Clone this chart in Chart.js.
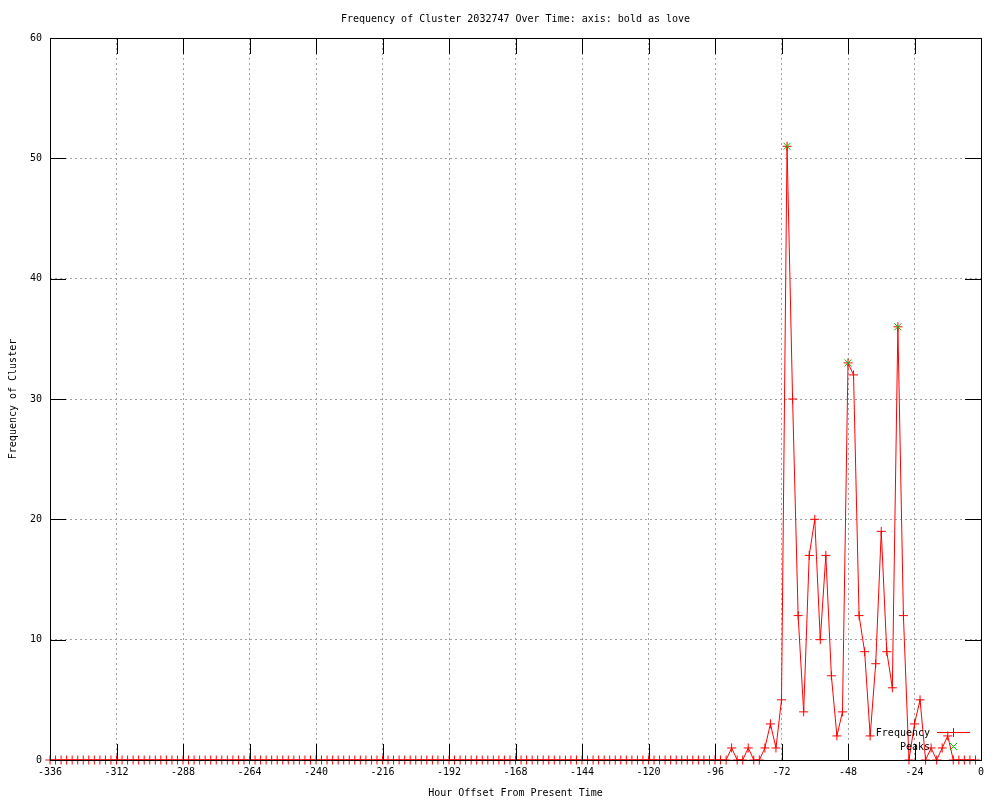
<!DOCTYPE html>
<html>
<head>
<meta charset="utf-8">
<script src="https://cdn.jsdelivr.net/npm/chart.js@4.4.0/dist/chart.umd.min.js"></script>
<style>
html, body { margin: 0; padding: 0; background: #fff; }
</style>
</head>
<body>
<canvas id="freqChart" width="1000" height="800"></canvas>
<script>
// Hour offsets (every 2 hours)
const hours = [
    -336, -334, -332, -330, -328, -326, -324, -322, -320, -318, -316, -314,
    -312, -310, -308, -306, -304, -302, -300, -298, -296, -294, -292, -290,
    -288, -286, -284, -282, -280, -278, -276, -274, -272, -270, -268, -266,
    -264, -262, -260, -258, -256, -254, -252, -250, -248, -246, -244, -242,
    -240, -238, -236, -234, -232, -230, -228, -226, -224, -222, -220, -218,
    -216, -214, -212, -210, -208, -206, -204, -202, -200, -198, -196, -194,
    -192, -190, -188, -186, -184, -182, -180, -178, -176, -174, -172, -170,
    -168, -166, -164, -162, -160, -158, -156, -154, -152, -150, -148, -146,
    -144, -142, -140, -138, -136, -134, -132, -130, -128, -126, -124, -122,
    -120, -118, -116, -114, -112, -110, -108, -106, -104, -102, -100, -98,
    -96, -94, -92, -90, -88, -86, -84, -82, -80, -78, -76, -74,
    -72, -70, -68, -66, -64, -62, -60, -58, -56, -54, -52, -50,
    -48, -46, -44, -42, -40, -38, -36, -34, -32, -30, -28, -26,
    -24, -22, -20, -18, -16, -14, -12, -10, -8, -6, -4, -2
];
const frequency = [
    0, 0, 0, 0, 0, 0, 0, 0, 0, 0, 0, 0,
    0, 0, 0, 0, 0, 0, 0, 0, 0, 0, 0, 0,
    0, 0, 0, 0, 0, 0, 0, 0, 0, 0, 0, 0,
    0, 0, 0, 0, 0, 0, 0, 0, 0, 0, 0, 0,
    0, 0, 0, 0, 0, 0, 0, 0, 0, 0, 0, 0,
    0, 0, 0, 0, 0, 0, 0, 0, 0, 0, 0, 0,
    0, 0, 0, 0, 0, 0, 0, 0, 0, 0, 0, 0,
    0, 0, 0, 0, 0, 0, 0, 0, 0, 0, 0, 0,
    0, 0, 0, 0, 0, 0, 0, 0, 0, 0, 0, 0,
    0, 0, 0, 0, 0, 0, 0, 0, 0, 0, 0, 0,
    0, 0, 0, 1, 0, 0, 1, 0, 0, 1, 3, 1,
    5, 51, 30, 12, 4, 17, 20, 10, 17, 7, 2, 4,
    33, 32, 12, 9, 2, 8, 19, 9, 6, 36, 12, 0,
    3, 5, 0, 1, 0, 1, 2, 0, 0, 0, 0, 0
];
const peakHours = [-70, -48, -30];
const peakValues = [51, 33, 36];

const xTicks = [-336, -312, -288, -264, -240, -216, -192, -168, -144, -120, -96, -72, -48, -24, 0];
const yTicks = [0, 10, 20, 30, 40, 50, 60];

const FONT = "'DejaVu Sans Mono', 'Liberation Mono', monospace";

// gnuplot style frame: border, inward ticks, titles, legend
const gnuplotFrame = {
    id: 'gnuplotFrame',
    afterDraw(chart) {
        const ctx = chart.ctx;
        const a = chart.chartArea;
        const xs = chart.scales.x;
        const ys = chart.scales.y;
        const tl = 16;
        ctx.save();
        ctx.strokeStyle = '#000';
        ctx.lineWidth = 1;
        ctx.beginPath();
        xTicks.forEach(v => {
            const px = Math.round(xs.getPixelForValue(v)) + 0.5;
            ctx.moveTo(px, a.bottom); ctx.lineTo(px, a.bottom - tl);
            ctx.moveTo(px, a.top); ctx.lineTo(px, a.top + tl);
        });
        yTicks.forEach(v => {
            const py = Math.round(ys.getPixelForValue(v)) + 0.5;
            ctx.moveTo(a.left, py); ctx.lineTo(a.left + tl, py);
            ctx.moveTo(a.right, py); ctx.lineTo(a.right - tl, py);
        });
        ctx.stroke();
        ctx.strokeRect(Math.round(a.left) + 0.5, Math.round(a.top) + 0.5,
            Math.round(a.right - a.left), Math.round(a.bottom - a.top));

        ctx.fillStyle = '#000';
        ctx.font = '10px ' + FONT;
        ctx.textAlign = 'center';
        ctx.textBaseline = 'middle';
        const cx = (a.left + a.right) / 2;
        ctx.fillText('Frequency of Cluster 2032747 Over Time: axis: bold as love', cx, 19);
        ctx.fillText('Hour Offset From Present Time', cx, 793);
        ctx.save();
        ctx.translate(13, (a.top + a.bottom) / 2);
        ctx.rotate(-Math.PI / 2);
        ctx.fillText('Frequency of Cluster', 0, 0);
        ctx.restore();

        // legend
        ctx.textAlign = 'right';
        ctx.fillText('Frequency', 930, 733);
        ctx.fillText('Peaks', 930, 747);
        ctx.strokeStyle = '#ff0000';
        ctx.beginPath();
        ctx.moveTo(937, 732.5); ctx.lineTo(970, 732.5);
        ctx.moveTo(953.5, 728); ctx.lineTo(953.5, 737);
        ctx.stroke();
        ctx.strokeStyle = '#00c000';
        ctx.beginPath();
        ctx.moveTo(950, 743); ctx.lineTo(957, 750);
        ctx.moveTo(957, 743); ctx.lineTo(950, 750);
        ctx.stroke();
        ctx.restore();
    }
};

const ctxFreq = document.getElementById('freqChart').getContext('2d');
new Chart(ctxFreq, {
    type: 'line',
    data: {
        datasets: [{
            label: 'Frequency',
            data: hours.map((h, i) => ({ x: h, y: frequency[i] })),
            borderColor: '#ff0000',
            backgroundColor: '#ff0000',
            borderWidth: 1,
            tension: 0,
            fill: false,
            pointStyle: 'cross',
            pointRadius: 4.5,
            pointBorderWidth: 1,
            pointBorderColor: '#ff0000',
            clip: false,
            order: 1
        }, {
            label: 'Peaks',
            data: peakHours.map((h, i) => ({ x: h, y: peakValues[i] })),
            showLine: false,
            pointStyle: 'crossRot',
            pointRadius: 5,
            pointBorderWidth: 1,
            pointBorderColor: '#00c000',
            backgroundColor: '#00c000',
            clip: false,
            order: 0
        }]
    },
    options: {
        responsive: false,
        animation: false,
        layout: {
            padding: { left: 0, top: 38, right: 19, bottom: 0 }
        },
        plugins: {
            legend: { display: false },
            tooltip: { enabled: false },
            title: { display: false }
        },
        scales: {
            x: {
                type: 'linear',
                min: -336,
                max: 0,
                afterBuildTicks: s => { s.ticks = xTicks.map(v => ({ value: v })); },
                afterFit: s => { s.height = 40; },
                grid: {
                    color: '#a0a0a0',
                    lineWidth: 1,
                    drawTicks: false
                },
                border: { display: false, dash: [2, 3] },
                ticks: {
                    color: '#000',
                    padding: 6,
                    maxRotation: 0,
                    autoSkip: false,
                    font: { family: FONT, size: 10 }
                }
            },
            y: {
                min: 0,
                max: 60,
                afterBuildTicks: s => { s.ticks = yTicks.map(v => ({ value: v })); },
                afterFit: s => { s.width = 50; },
                grid: {
                    color: '#a0a0a0',
                    lineWidth: 1,
                    drawTicks: false
                },
                border: { display: false, dash: [2, 3] },
                ticks: {
                    color: '#000',
                    padding: 8,
                    font: { family: FONT, size: 10 }
                }
            }
        }
    },
    plugins: [gnuplotFrame]
});
</script>
</body>
</html>
